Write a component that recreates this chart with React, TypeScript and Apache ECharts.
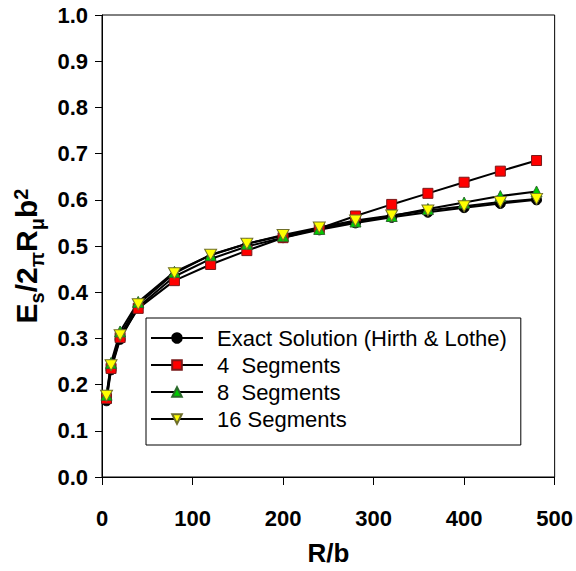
import React, { useEffect, useRef } from "react";
import * as echarts from "echarts";

const rOverB = [5, 10, 20, 40, 80, 120, 160, 200, 240, 280, 320, 360, 400, 440, 480];
const exactSolution = [0.165, 0.232, 0.298, 0.368, 0.434, 0.472, 0.499, 0.518, 0.535, 0.55, 0.562, 0.573, 0.583, 0.592, 0.6];
const seg4 = [0.17, 0.235, 0.302, 0.365, 0.425, 0.46, 0.49, 0.518, 0.538, 0.565, 0.59, 0.614, 0.638, 0.662, 0.685];
const seg8 = [0.178, 0.247, 0.315, 0.379, 0.444, 0.48, 0.505, 0.522, 0.537, 0.553, 0.565, 0.58, 0.594, 0.608, 0.618];
const seg16 = [0.176, 0.242, 0.307, 0.374, 0.441, 0.481, 0.505, 0.524, 0.54, 0.555, 0.566, 0.577, 0.586, 0.595, 0.602];
const seriesNames = ["Exact Solution (Hirth & Lothe)", "4  Segments", "8  Segments", "16 Segments"];
const xTicks = [0, 100, 200, 300, 400, 500];
const yTicks = [0, 0.1, 0.2, 0.3, 0.4, 0.5, 0.6, 0.7, 0.8, 0.9, 1.0];

const FONT = "'Liberation Sans', Arial, sans-serif";

export default function App() {
  const ref = useRef<HTMLDivElement>(null);
  useEffect(() => {
    if (!ref.current) return;
    const chart = echarts.init(ref.current, null, { renderer: "svg" });
    const pair = (vals: number[]) => rOverB.map((x, i) => [x, vals[i]]);
    const lineStyle = { color: "#000", width: 2 };
    chart.setOption({
      animation: false,
      backgroundColor: "#fff",
      textStyle: { fontFamily: FONT },
      grid: {
        left: 102,
        right: 18,
        top: 15,
        bottom: 94,
        show: true,
        borderColor: "#000",
        borderWidth: 1,
        backgroundColor: "transparent",
      },
      xAxis: {
        type: "value",
        min: xTicks[0],
        max: xTicks[xTicks.length - 1],
        interval: 100,
        name: "R/b",
        nameLocation: "middle",
        nameGap: 63,
        nameTextStyle: { fontSize: 26, fontWeight: "bold", color: "#000", fontFamily: FONT },
        axisLine: { lineStyle: { color: "#000", width: 1 } },
        axisTick: { show: true, length: 8, lineStyle: { color: "#000" } },
        axisLabel: { fontSize: 22, fontWeight: "bold", color: "#000", margin: 30, fontFamily: FONT },
        splitLine: { show: false },
      },
      yAxis: {
        type: "value",
        min: yTicks[0],
        max: yTicks[yTicks.length - 1],
        interval: 0.1,
        name: "{b|E}{sub|s}{b|/2}{sub|π}{b|R}{sub|μ}{b|b}{sup|2}",
        nameLocation: "middle",
        nameGap: 49,
        nameRotate: 90,
        nameTextStyle: {
          color: "#000",
          fontFamily: FONT,
          padding: [0, 20, 0, 0],
          rich: {
            b: { fontSize: 30, fontWeight: "bold", color: "#000", fontFamily: FONT, lineHeight: 32, verticalAlign: "middle" },
            sub: { fontSize: 20, fontWeight: "bold", color: "#000", fontFamily: FONT, verticalAlign: "bottom", lineHeight: 32, padding: [0, 0, -4, 0] },
            sup: { fontSize: 20, fontWeight: "bold", color: "#000", fontFamily: FONT, verticalAlign: "top", lineHeight: 32, padding: [0, 0, 6, 0] },
          },
        },
        axisLine: { show: true, lineStyle: { color: "#000", width: 1 } },
        axisTick: { show: true, length: 7, lineStyle: { color: "#000" } },
        axisLabel: {
          fontSize: 22,
          fontWeight: "bold",
          color: "#000",
          margin: 14,
          fontFamily: FONT,
          formatter: (v: number) => v.toFixed(1),
        },
        splitLine: { show: false },
      },
      legend: {
        orient: "vertical",
        left: 146,
        top: 318,
        padding: [9, 14, 15, 4],
        itemGap: 5,
        itemWidth: 52,
        itemHeight: 12,
        borderColor: "#000",
        borderWidth: 1,
        borderRadius: 0,
        backgroundColor: "#fff",
        textStyle: { fontSize: 22, color: "#000", fontFamily: FONT, padding: [0, 0, 0, 9] },
        data: seriesNames,
      },
      series: [
        {
          name: seriesNames[0],
          type: "line",
          data: pair(exactSolution),
          symbol: "circle",
          symbolSize: 10,
          lineStyle,
          itemStyle: { color: "#000", borderColor: "#000", borderWidth: 1 },
        },
        {
          name: seriesNames[1],
          type: "line",
          data: pair(seg4),
          symbol: "rect",
          symbolSize: 10,
          lineStyle,
          itemStyle: { color: "#ff0000", borderColor: "#7a1a1a", borderWidth: 1 },
        },
        {
          name: seriesNames[2],
          type: "line",
          data: pair(seg8),
          symbol: "triangle",
          symbolSize: 11,
          lineStyle,
          itemStyle: { color: "#00cc00", borderColor: "#2a6a2a", borderWidth: 1 },
        },
        {
          name: seriesNames[3],
          type: "line",
          data: pair(seg16),
          symbol: "path://M0,0 L10,0 L5,9 Z",
          symbolSize: [12, 11],
          lineStyle,
          itemStyle: { color: "#ffff00", borderColor: "#6f6f2a", borderWidth: 1 },
        },
      ],
    });
    return () => chart.dispose();
  }, []);
  return <div ref={ref} style={{ width: 576, height: 571, position: "absolute", left: 0, top: 0 }} />;
}
